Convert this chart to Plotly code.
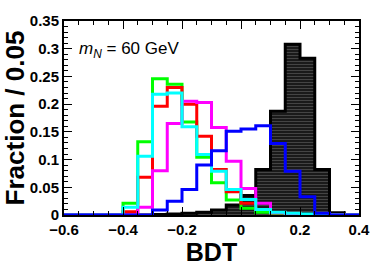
import plotly.graph_objects as go

edges = [round(-0.6 + 0.05 * i, 2) for i in range(21)]

signal = [0, 0, 0, 0, 0, 0, 0.001, 0.002, 0.003, 0.005, 0.009, 0.018, 0.035, 0.082, 0.187, 0.308, 0.283, 0.082, 0.004, 0]
green = [0, 0, 0, 0, 0.021, 0.132, 0.246, 0.236, 0.168, 0.104, 0.058, 0.027, 0.012, 0.005, 0.002, 0.001, 0, 0, 0, 0]
red = [0, 0, 0, 0, 0.006, 0.068, 0.196, 0.230, 0.200, 0.142, 0.082, 0.042, 0.021, 0.010, 0.004, 0.002, 0, 0, 0, 0]
magenta = [0, 0, 0, 0, 0, 0.014, 0.080, 0.165, 0.205, 0.203, 0.158, 0.097, 0.048, 0.021, 0.004, 0.002, 0, 0, 0, 0]
cyan = [0, 0, 0, 0, 0.014, 0.106, 0.218, 0.220, 0.159, 0.109, 0.079, 0.046, 0.028, 0.010, 0.005, 0.003, 0.002, 0, 0, 0]
blue = [0, 0, 0, 0, 0, 0, 0.009, 0.025, 0.046, 0.090, 0.116, 0.151, 0.155, 0.161, 0.129, 0.079, 0.033, 0.003, 0, 0]

xticks = [-0.6, -0.4, -0.2, 0, 0.2, 0.4]
xticklabels = ["\u22120.6", "\u22120.4", "\u22120.2", "0", "0.2", "0.4"]
yticks = [0, 0.05, 0.1, 0.15, 0.2, 0.25, 0.3, 0.35]
yticklabels = ["0", "0.05", "0.1", "0.15", "0.2", "0.25", "0.3", "0.35"]

FONT = "Liberation Sans"

def step(vals):
    return vals + [vals[-1]]

fig = go.Figure()

fig.add_trace(go.Scatter(
    x=edges, y=step(signal), mode="lines", line_shape="hv",
    line=dict(color="black", width=3), fill="tozeroy", fillcolor="#1a1a1a",
    fillpattern=dict(shape="-", bgcolor="#1a1a1a", fgcolor="#8a8a8a", size=3, solidity=0.25),
    showlegend=False, hoverinfo="skip"))

for vals, col in [(green, "#00ff00"), (red, "#ff0000"), (magenta, "#ff00ff"), (cyan, "#00ffff"), (blue, "#0000ff")]:
    fig.add_trace(go.Scatter(
        x=edges, y=step(vals), mode="lines", line_shape="hv",
        line=dict(color=col, width=3), showlegend=False, hoverinfo="skip"))

fig.add_annotation(
    x=0.045, y=0.85, xref="paper", yref="paper", xanchor="left", yanchor="middle",
    text="<i>m</i><sub><i>N</i></sub> = 60 GeV", showarrow=False,
    font=dict(family=FONT, size=17, color="black"))

axis_common = dict(
    showgrid=False, zeroline=False, showline=True, linecolor="black", linewidth=2,
    mirror="allticks", ticks="inside", tickcolor="black", tickwidth=1,
    tickfont=dict(family=FONT, size=15, color="black", weight="bold"),
)

fig.update_xaxes(
    range=[-0.6, 0.4], tickvals=xticks, ticktext=xticklabels, ticklen=8,
    minor=dict(dtick=0.05, tick0=-0.6, ticklen=4, ticks="inside", tickcolor="black", showgrid=False),
    title=dict(text="BDT", font=dict(family=FONT, size=25, color="black", weight="bold"), standoff=2),
    **axis_common)
fig.update_yaxes(
    range=[0, 0.35], tickvals=yticks, ticktext=yticklabels, ticklen=8,
    minor=dict(dtick=0.01, tick0=0, ticklen=4, ticks="inside", tickcolor="black", showgrid=False),
    title=dict(text="Fraction / 0.05", font=dict(family=FONT, size=26, color="black", weight="bold"), standoff=0),
    **axis_common)

fig.update_layout(
    width=382, height=273,
    margin=dict(l=61, r=16, t=13, b=58),
    plot_bgcolor="white", paper_bgcolor="white",
)

fig.write_html("out.html", config={"displayModeBar": False},
               post_script="document.body.style.margin='0';")
